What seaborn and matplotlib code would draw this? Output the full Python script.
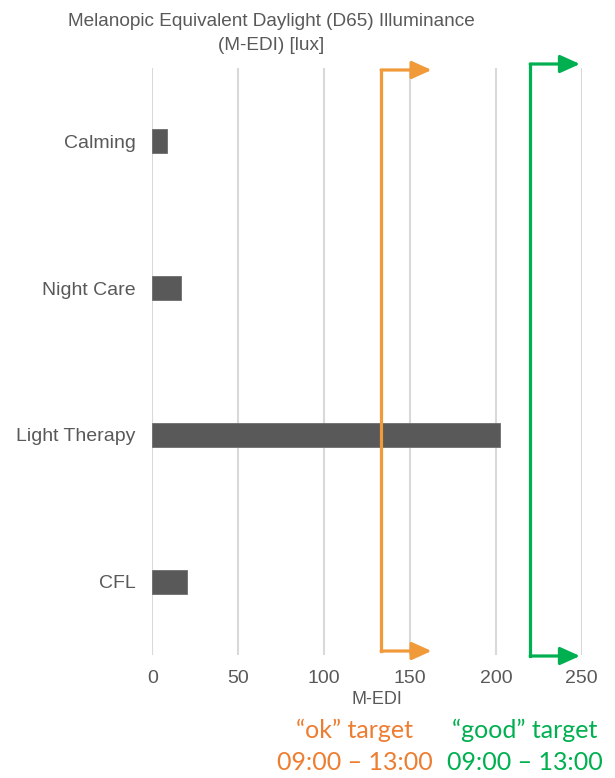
import matplotlib
matplotlib.use("Agg")
import matplotlib.pyplot as plt
import matplotlib.transforms as mtransforms
import seaborn as sns
import pandas as pd

# Lamp modes and their melanopic EDI
categories = ["Calming", "Night Care", "Light Therapy", "CFL"]
medi_values = [8.4, 16.9, 202.3, 20.0]
x_ticks = [0, 50, 100, 150, 200, 250]

# Target thresholds (start of the arrow, end of the arrowhead)
ok_target = 133.2
ok_arrow_end = 162.6
good_target = 220.0
good_arrow_end = 249.0

GREY_TXT = "#595959"
BAR = "#595959"
GRID = "#D9D9D9"
ORANGE_LINE = "#F09A3A"
ORANGE_TXT = "#ED7D31"
GREEN = "#00B050"

sns.set_theme(style="white")
plt.rcParams["font.family"] = ["Liberation Sans", "DejaVu Sans"]

fig = plt.figure(figsize=(6.15, 7.78), dpi=100)
ax = fig.add_axes([0.2477, 0.1581, 0.6982, 0.7545])

df = pd.DataFrame({"mode": categories, "medi": medi_values})
sns.barplot(data=df, x="medi", y="mode", orient="h", color=BAR,
            width=0.165, ax=ax, saturation=1, edgecolor="#6e6e6e",
            linewidth=0.6, zorder=3)

ax.set_xlim(0, 250)
ax.set_ylim(3.5, -0.5)
ax.set_xticks(x_ticks)
ax.set_xticklabels([str(t) for t in x_ticks])
for t in x_ticks:
    ax.axvline(t, color=GRID, lw=1.5, zorder=0)
for s in ax.spines.values():
    s.set_visible(False)
ax.tick_params(axis="both", length=0, colors=GREY_TXT, labelsize=14)
ax.tick_params(axis="x", pad=11)
ax.tick_params(axis="y", pad=12)
ax.set_ylabel("")
ax.set_xlabel("")
fig.text(377 / 615, 1 - 700 / 778, "M-EDI", ha="center", va="center",
         color=GREY_TXT, fontsize=13)

blend = mtransforms.blended_transform_factory(ax.transData, ax.transAxes)


def target_arrow(x0, x1, y_top, y_bot, color):
    ax.plot([x0, x0], [y_top, y_bot], color=color, lw=2.3, transform=blend,
            clip_on=False, zorder=5, solid_capstyle="projecting")
    for y in (y_top, y_bot):
        ax.annotate("", xy=(x1, y), xytext=(x0, y), xycoords=blend,
                    textcoords=blend, annotation_clip=False, zorder=5,
                    arrowprops=dict(arrowstyle="-|>,head_length=12,head_width=5.4",
                                    mutation_scale=1, color=color, lw=2.3,
                                    shrinkA=0, shrinkB=0))


target_arrow(ok_target, ok_arrow_end, 0.9966, 0.0068, ORANGE_LINE)
target_arrow(good_target, good_arrow_end, 1.0068, -0.0017, GREEN)

fig.text(271 / 615, 1 - 22 / 778,
         "Melanopic Equivalent Daylight (D65) Illuminance",
         ha="center", va="center", color=GREY_TXT, fontsize=13.7)
fig.text(271 / 615, 1 - 46 / 778, "(M-EDI) [lux]",
         ha="center", va="center", color=GREY_TXT, fontsize=13.7)

label_font = ["Lato", "DejaVu Sans"]
fig.text(355 / 615, 1 - 730 / 778, "\u201cok\u201d target", ha="center",
         va="center", color=ORANGE_TXT, fontsize=18, family=label_font)
fig.text(355 / 615, 1 - 763 / 778, "09:00 \u2013 13:00", ha="center",
         va="center", color=ORANGE_TXT, fontsize=18, family=label_font)
fig.text(525 / 615, 1 - 730 / 778, "\u201cgood\u201d target", ha="center",
         va="center", color=GREEN, fontsize=18, family=label_font)
fig.text(525 / 615, 1 - 763 / 778, "09:00 \u2013 13:00", ha="center",
         va="center", color=GREEN, fontsize=18, family=label_font)

fig.savefig("out.png", dpi=100)
